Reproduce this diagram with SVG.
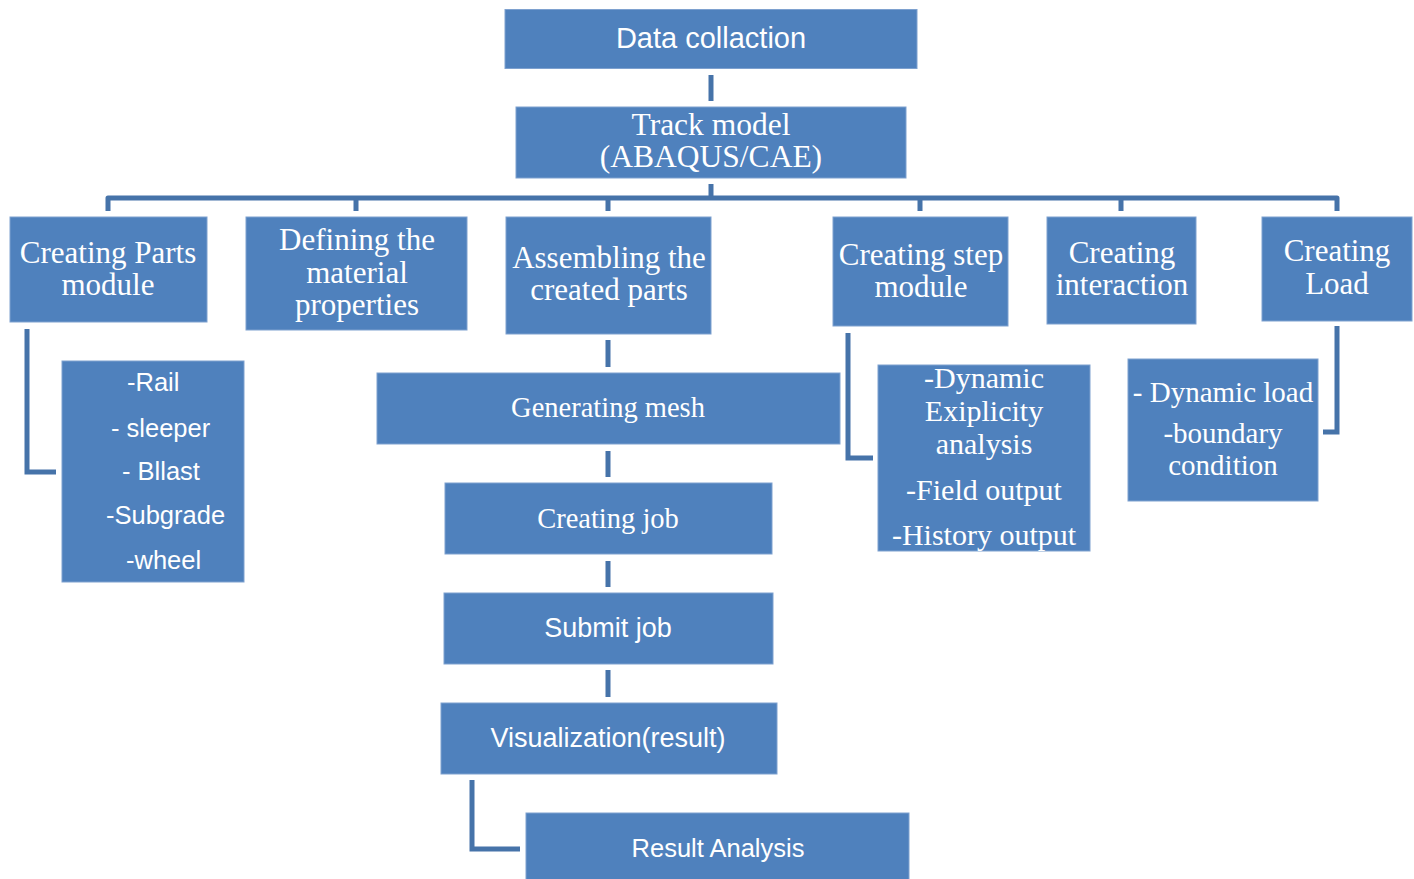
<svg xmlns="http://www.w3.org/2000/svg" width="1414" height="879" viewBox="0 0 1414 879">
<style>
.box{fill:#4f81bd;stroke:#7ea1cf;stroke-width:1}
.conn{fill:none;stroke:#4673a9;stroke-width:5}
.serif{font-family:"Liberation Serif","Times New Roman",serif;fill:#ffffff;text-anchor:middle}
.sans{font-family:"Liberation Sans",Arial,sans-serif;fill:#ffffff;text-anchor:middle}
.left{text-anchor:start}
</style>
<rect width="1414" height="879" fill="#ffffff"/>
<g id="connectors">
<path class="conn" d="M711,75 V101"/>
<path class="conn" d="M711,184 V198"/>
<path class="conn" stroke-linejoin="round" d="M108,211 V198 H1337 V211"/>
<path class="conn" d="M356,198 V211 M608,198 V211 M920,198 V211 M1121,198 V211"/>
<path class="conn" d="M27,329 V472 H56"/>
<path class="conn" d="M848,333 V458 H873"/>
<path class="conn" d="M1337,326 V432 H1323"/>
<path class="conn" d="M608,340 V367 M608,451 V477 M608,561 V587 M608,670 V697"/>
<path class="conn" d="M472,780 V849 H520"/>
</g>
<g id="data-collaction">
<rect class="box" x="505" y="9.5" width="412" height="59"/>
<text class="sans" x="711" y="48" font-size="29">Data collaction</text>
</g>
<g id="track-model">
<rect class="box" x="516" y="107" width="390" height="71"/>
<text class="serif" x="711" y="135" font-size="31.5">Track model</text>
<text class="serif" x="711" y="167" font-size="31.5">(ABAQUS/CAE)</text>
</g>
<g id="creating-parts">
<rect class="box" x="10" y="217" width="197" height="105"/>
<text class="serif" x="108" y="263" font-size="31">Creating Parts</text>
<text class="serif" x="108" y="295" font-size="31">module</text>
</g>
<g id="defining-material">
<rect class="box" x="246" y="217" width="221" height="113"/>
<text class="serif" x="357" y="250" font-size="31">Defining the</text>
<text class="serif" x="357" y="283" font-size="31">material</text>
<text class="serif" x="357" y="315" font-size="31">properties</text>
</g>
<g id="assembling">
<rect class="box" x="506" y="217" width="205" height="117"/>
<text class="serif" x="609" y="268" font-size="31">Assembling the</text>
<text class="serif" x="609" y="300" font-size="31">created parts</text>
</g>
<g id="creating-step">
<rect class="box" x="833" y="217" width="175" height="109"/>
<text class="serif" x="921" y="265" font-size="31">Creating step</text>
<text class="serif" x="921" y="297" font-size="31">module</text>
</g>
<g id="creating-interaction">
<rect class="box" x="1047" y="217" width="149" height="107"/>
<text class="serif" x="1122" y="263" font-size="31">Creating</text>
<text class="serif" x="1122" y="295" font-size="31">interaction</text>
</g>
<g id="creating-load">
<rect class="box" x="1262" y="217" width="150" height="104"/>
<text class="serif" x="1337" y="261" font-size="31">Creating</text>
<text class="serif" x="1337" y="294" font-size="31">Load</text>
</g>
<g id="parts-list">
<rect class="box" x="62" y="361" width="182" height="221"/>
<text class="sans left" x="127" y="391" font-size="25.5">-Rail</text>
<text class="sans left" x="111" y="437" font-size="25.5">- sleeper</text>
<text class="sans left" x="122" y="480" font-size="25.5">- Bllast</text>
<text class="sans left" x="106" y="524" font-size="25.5">-Subgrade</text>
<text class="sans left" x="126" y="569" font-size="25.5">-wheel</text>
</g>
<g id="generating-mesh">
<rect class="box" x="377" y="373" width="463" height="71"/>
<text class="serif" x="608" y="417" font-size="28.5">Generating mesh</text>
</g>
<g id="creating-job">
<rect class="box" x="445" y="483" width="327" height="71"/>
<text class="serif" x="608" y="528" font-size="28.5">Creating job</text>
</g>
<g id="submit-job">
<rect class="box" x="444" y="593" width="329" height="71"/>
<text class="sans" x="608" y="637" font-size="27">Submit job</text>
</g>
<g id="visualization">
<rect class="box" x="441" y="703" width="336" height="71"/>
<text class="sans" x="608" y="747" font-size="27">Visualization(result)</text>
</g>
<g id="result-analysis">
<rect class="box" x="526" y="813" width="383" height="70"/>
<text class="sans" x="718" y="857" font-size="25.5">Result Analysis</text>
</g>
<g id="step-details">
<rect class="box" x="878" y="365" width="212" height="186"/>
<text class="serif" x="984" y="388" font-size="30">-Dynamic</text>
<text class="serif" x="984" y="421" font-size="30">Exiplicity</text>
<text class="serif" x="984" y="454" font-size="30">analysis</text>
<text class="serif" x="984" y="500" font-size="30">-Field output</text>
<text class="serif" x="984" y="545" font-size="30">-History output</text>
</g>
<g id="load-details">
<rect class="box" x="1128" y="359" width="190" height="142"/>
<text class="serif" x="1223" y="402" font-size="29">- Dynamic load</text>
<text class="serif" x="1223" y="443" font-size="29">-boundary</text>
<text class="serif" x="1223" y="475" font-size="29">condition</text>
</g>
</svg>
